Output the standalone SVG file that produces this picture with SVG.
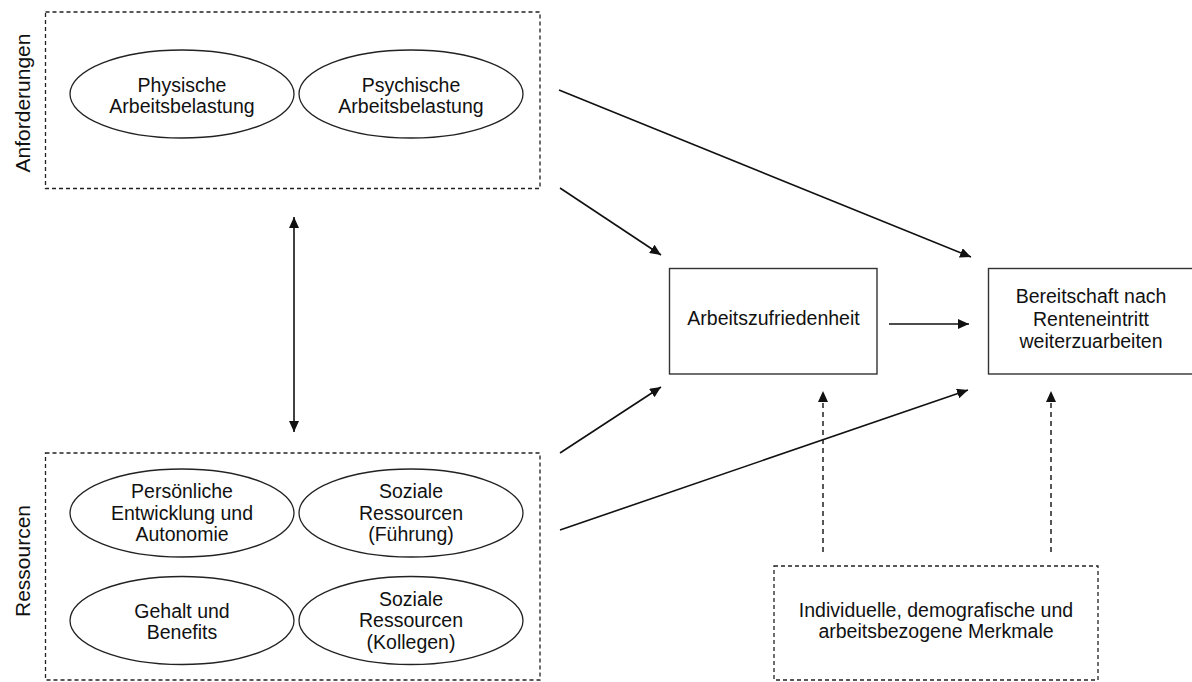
<svg xmlns="http://www.w3.org/2000/svg" width="1192" height="682" viewBox="0 0 1192 682">
<style>
text{font-family:"Liberation Sans",Arial,sans-serif;font-size:19.5px;fill:#111;text-anchor:middle}
.lbl{font-size:21px}
.dbox{fill:none;stroke:#222;stroke-width:1.3;stroke-dasharray:4 3}
.box{fill:#fff;stroke:#333;stroke-width:1.4}
.ell{fill:#fff;stroke:#222;stroke-width:1.3}
.arr{stroke:#111;stroke-width:1.6;fill:none;marker-end:url(#ah)}
.darr{stroke:#111;stroke-width:1.4;fill:none;stroke-dasharray:5 4;marker-end:url(#ah)}
.dbl{stroke:#111;stroke-width:1.6;fill:none;marker-end:url(#ah);marker-start:url(#ah)}
</style>
<defs>
<marker id="ah" markerUnits="userSpaceOnUse" markerWidth="11" markerHeight="10" refX="11" refY="5" orient="auto-start-reverse">
<path d="M0,0 L11,5 L0,10 z" fill="#111"/>
</marker>
</defs>
<rect width="1192" height="682" fill="#fff"/>
<g id="anforderungen">
<rect class="dbox" x="45.5" y="12" width="494.5" height="176.5"/>
<text class="lbl" transform="translate(30,103) rotate(-90)">Anforderungen</text>
</g>
<g id="physische">
<ellipse class="ell" cx="182" cy="94" rx="112" ry="44"/>
<text x="182" y="91.5">Physische</text>
<text x="182" y="113">Arbeitsbelastung</text>
</g>
<g id="psychische">
<ellipse class="ell" cx="411" cy="94" rx="112" ry="44"/>
<text x="411" y="91.5">Psychische</text>
<text x="411" y="113">Arbeitsbelastung</text>
</g>
<g id="ressourcen">
<rect class="dbox" x="45.5" y="453" width="494.5" height="227"/>
<text class="lbl" transform="translate(30,561) rotate(-90)">Ressourcen</text>
</g>
<g id="entwicklung">
<ellipse class="ell" cx="182" cy="513" rx="112" ry="44"/>
<text x="182" y="498">Persönliche</text>
<text x="182" y="519.5">Entwicklung und</text>
<text x="182" y="541">Autonomie</text>
</g>
<g id="fuehrung">
<ellipse class="ell" cx="411" cy="513" rx="112" ry="44"/>
<text x="411" y="498">Soziale</text>
<text x="411" y="519.5">Ressourcen</text>
<text x="411" y="541">(Führung)</text>
</g>
<g id="gehalt">
<ellipse class="ell" cx="182" cy="620.5" rx="112" ry="44"/>
<text x="182" y="617.5">Gehalt und</text>
<text x="182" y="639">Benefits</text>
</g>
<g id="kollegen">
<ellipse class="ell" cx="411" cy="620.5" rx="112" ry="44"/>
<text x="411" y="605.5">Soziale</text>
<text x="411" y="627">Ressourcen</text>
<text x="411" y="648.5">(Kollegen)</text>
</g>
<g id="zufriedenheit">
<rect class="box" x="669.5" y="268.5" width="207.5" height="105.5"/>
<text x="773.5" y="325">Arbeitszufriedenheit</text>
</g>
<g id="bereitschaft">
<rect class="box" x="988.5" y="268.5" width="210" height="105.5"/>
<text x="1091" y="303">Bereitschaft nach</text>
<text x="1091" y="325.5">Renteneintritt</text>
<text x="1091" y="348">weiterzuarbeiten</text>
</g>
<g id="merkmale">
<rect class="dbox" x="774" y="566" width="324" height="114"/>
<text x="936" y="616.5">Individuelle, demografische und</text>
<text x="936" y="638">arbeitsbezogene Merkmale</text>
</g>
<g id="connectors">
<line class="arr" x1="559" y1="90" x2="971" y2="257"/>
<line class="arr" x1="560" y1="188" x2="661" y2="255"/>
<line class="arr" x1="889" y1="324" x2="969" y2="324"/>
<line class="arr" x1="560" y1="453" x2="661" y2="387"/>
<line class="arr" x1="560" y1="530" x2="968" y2="390"/>
<line class="darr" x1="823" y1="552" x2="823" y2="391"/>
<line class="darr" x1="1051" y1="552" x2="1051" y2="391"/>
<line class="dbl" x1="294" y1="217" x2="294" y2="432"/>
</g>
</svg>
